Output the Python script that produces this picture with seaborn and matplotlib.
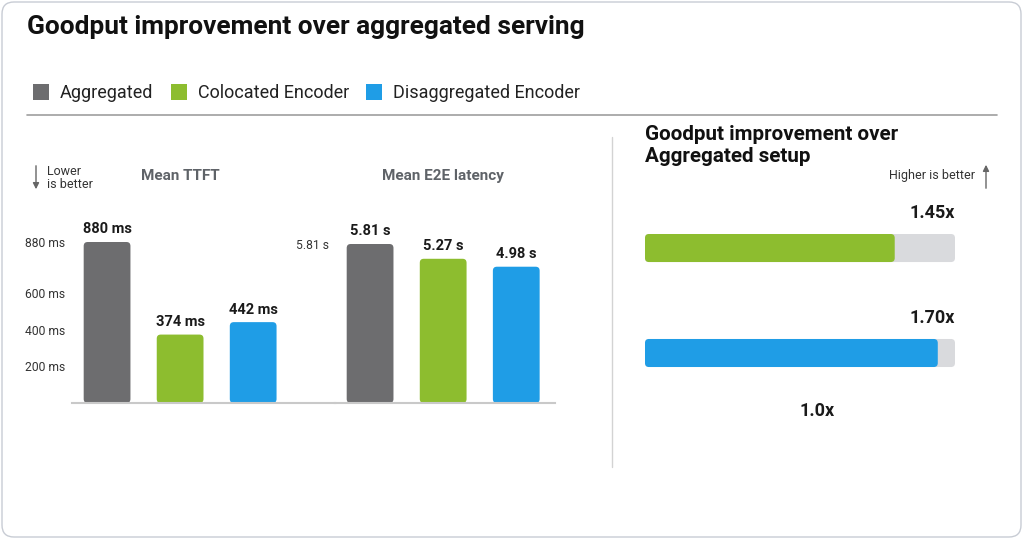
import numpy as np
import pandas as pd
import seaborn as sns
import matplotlib.pyplot as plt
from matplotlib.patches import Patch, FancyBboxPatch, FancyArrowPatch
from matplotlib.lines import Line2D

# datos del grafico
systems = ["Aggregated", "Colocated Encoder", "Disaggregated Encoder"]
ttft_ms = [880, 374, 442]
ttft_labels = ["880 ms", "374 ms", "442 ms"]
ttft_ticks = [200, 400, 600, 880]
e2e_s = [5.81, 5.27, 4.98]
e2e_labels = ["5.81 s", "5.27 s", "4.98 s"]
e2e_ticks = [5.81]
goodput_systems = ["Colocated Encoder", "Disaggregated Encoder"]
goodput_x = [1.45, 1.70]
goodput_labels = ["1.45x", "1.70x"]
goodput_scale_max = 1.8
goodput_ticks = [1.0]

colors = {"Aggregated": "#6d6d6f", "Colocated Encoder": "#8dbd2f",
          "Disaggregated Encoder": "#1f9de6"}

sns.set_style("white")
plt.rcParams["font.family"] = ["Roboto", "DejaVu Sans"]

W, H = 1024, 539
fig = plt.figure(figsize=(W / 100, H / 100), dpi=100)


def fx(x):
    return x / W


def fy(y):
    return 1 - y / H


def px_axes(l, t, r, b):
    return fig.add_axes([fx(l), fy(b), (r - l) / W, (b - t) / H])


def round_bars(ax, radius_px):
    # cambia los rectangulos por barras con esquinas redondeadas
    p0 = ax.transData.transform((0, 0))
    p1 = ax.transData.transform((1, 1))
    dx, dy = abs(p1[0] - p0[0]), abs(p1[1] - p0[1])
    for p in list(ax.patches):
        x, y, w, h = p.get_x(), p.get_y(), p.get_width(), p.get_height()
        new = FancyBboxPatch((x, y), w, h,
                             boxstyle=f"round,pad=0,rounding_size={radius_px / dx}",
                             mutation_aspect=dx / dy, fc=p.get_facecolor(),
                             ec="none", zorder=p.get_zorder())
        p.remove()
        ax.add_patch(new)


df = pd.DataFrame({"system": systems, "ttft": ttft_ms, "e2e": e2e_s})

# ? Mean TTFT
ax1 = px_axes(72, 200, 335, 403)
sns.barplot(data=df, x="system", y="ttft", hue="system", palette=colors,
            width=0.64, saturation=1, legend=False, ax=ax1)
ax1.set_xlim(-0.48, 3.12)
ax1.set_ylim(0, 880 * 203 / 161)

# ? Mean E2E latency
ax2 = px_axes(335, 200, 555, 403)
sns.barplot(data=df, x="system", y="e2e", hue="system", palette=colors,
            width=0.64, saturation=1, legend=False, ax=ax2)
ax2.set_xlim(-0.48, 2.53)
ax2.set_ylim(0, 5.81 * 203 / 159)

for ax, vals, labs, ticks, unit, pad in [
        (ax1, ttft_ms, ttft_labels, ttft_ticks, " ms", 5),
        (ax2, e2e_s, e2e_labels, e2e_ticks, " s", 4)]:
    for s in ["top", "right", "left"]:
        ax.spines[s].set_visible(False)
    ax.spines["bottom"].set_color("#c9c9c9")
    ax.spines["bottom"].set_linewidth(1.5)
    ax.set_xticks([])
    ax.set_xlabel("")
    ax.set_ylabel("")
    ax.set_yticks(ticks)
    ax.set_yticklabels([f"{t:g}{unit}" for t in ticks])
    ax.tick_params(axis="y", length=0, pad=pad, labelsize=8.7, labelcolor="#333333")
    ax.set_facecolor("none")
    round_bars(ax, 4)
    for i, (v, lab) in enumerate(zip(vals, labs)):
        ax.annotate(lab, (i, v), xytext=(0, 4), textcoords="offset points",
                    ha="center", va="bottom", fontsize=10.5, fontweight="bold",
                    color="#1a1a1a")

fig.text(fx(180), fy(176), "Mean TTFT", ha="center", va="center",
         fontsize=11, fontweight="bold", color="#5f6368")
fig.text(fx(443), fy(176), "Mean E2E latency", ha="center", va="center",
         fontsize=11, fontweight="bold", color="#5f6368")
fig.text(fx(47), fy(178), "Lower\nis better", ha="left", va="center",
         fontsize=9, color="#333333", linespacing=1.05)
fig.add_artist(FancyArrowPatch((fx(36), fy(163)), (fx(36), fy(192)),
                               transform=fig.transFigure, arrowstyle="-|>",
                               mutation_scale=9, color="#666666", lw=1))

# ? Goodput
ax3 = px_axes(645, 195, 955, 395)
gdf = pd.DataFrame({"system": goodput_systems, "goodput": goodput_x,
                    "scale": [goodput_scale_max] * len(goodput_x)})
sns.barplot(data=gdf, x="scale", y="system", color="#d9dadd", width=0.267,
            saturation=1, orient="h", ax=ax3)
sns.barplot(data=gdf, x="goodput", y="system", hue="system", palette=colors,
            width=0.267, saturation=1, orient="h", legend=False, ax=ax3)
ax3.set_xlim(0, goodput_scale_max)
ax3.set_ylim(1.4, -0.505)
for s in ax3.spines.values():
    s.set_visible(False)
ax3.set_yticks([])
ax3.set_xlabel("")
ax3.set_ylabel("")
ax3.set_xticks(goodput_ticks)
ax3.set_xticklabels([f"{t:.1f}x" for t in goodput_ticks], fontweight="bold")
ax3.tick_params(axis="x", length=0, pad=5, labelsize=13, labelcolor="#1a1a1a")
ax3.set_facecolor("none")
round_bars(ax3, 4)
for i, lab in enumerate(goodput_labels):
    ax3.text(goodput_scale_max, i - 0.333, lab, ha="right", va="center",
             fontsize=13, fontweight="bold", color="#1a1a1a")

fig.text(fx(645), fy(145), "Goodput improvement over\nAggregated setup",
         ha="left", va="center", fontsize=14.9, fontweight="bold",
         color="#111111", linespacing=1.2)
fig.text(fx(975), fy(176), "Higher is better", ha="right", va="center",
         fontsize=9, color="#333333")
fig.add_artist(FancyArrowPatch((fx(986), fy(191)), (fx(986), fy(162)),
                               transform=fig.transFigure, arrowstyle="-|>",
                               mutation_scale=9, color="#666666", lw=1))

# ^ Titulo, leyenda y lineas
fig.text(fx(27), fy(27), "Goodput improvement over aggregated serving",
         ha="left", va="center", fontsize=18.9, fontweight="bold", color="#111111")
handles = [Patch(facecolor=colors[s], edgecolor="none", label=s) for s in systems]
fig.legend(handles=handles, loc="center left", bbox_to_anchor=(fx(33), fy(93)),
           ncol=3, frameon=False, fontsize=13.0, handlelength=0.9,
           handleheight=1.0, handletextpad=0.6, columnspacing=0.95,
           labelcolor="#222222", borderpad=0, borderaxespad=0)
fig.add_artist(Line2D([fx(27), fx(997)], [fy(115), fy(115)],
                      transform=fig.transFigure, color="#9e9e9e", lw=1.2))
fig.add_artist(Line2D([fx(612), fx(612)], [fy(137), fy(467)],
                      transform=fig.transFigure, color="#d3d3d3", lw=1))
fig.add_artist(FancyBboxPatch((fx(2), fy(537)), fx(1019), 535 / H,
                              boxstyle=f"round,pad=0,rounding_size={12 / W}",
                              mutation_aspect=W / H, transform=fig.transFigure,
                              fc="none", ec="#c8ccd4", lw=1))

fig.savefig("out.png", dpi=100)
